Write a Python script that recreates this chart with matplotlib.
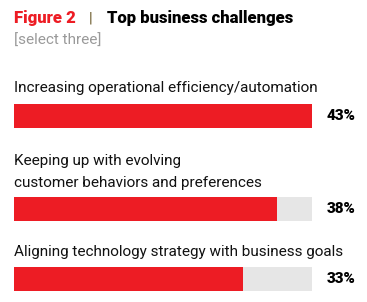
import matplotlib
matplotlib.use('Agg')
import matplotlib.pyplot as plt

# data
labels = ['Increasing operational efficiency/automation',
          'Keeping up with evolving\ncustomer behaviors and preferences',
          'Aligning technology strategy with business goals']
values = [43, 38, 33]
track_max = 43

RED = '#ED1C24'
TRACK = '#E6E6E6'
W, H = 367, 302

plt.rcParams['font.family'] = ['Roboto', 'DejaVu Sans']

fig = plt.figure(figsize=(W / 100, H / 100), dpi=100)

def px(x, y):
    # pixel (from top-left) -> figure fraction
    return x / W, 1 - y / H

# title
fig.text(*px(14, 23), 'Figure 2', color=RED, fontsize=12, fontweight='heavy', va='baseline')
fig.text(*px(89, 23), '|', color='#6B5A2A', fontsize=11, va='baseline')
fig.text(*px(107, 23), 'Top business challenges', color='black', fontsize=12,
         fontweight='heavy', va='baseline')
fig.text(*px(14, 45), '[select three]', color='#9A9A9A', fontsize=11, va='baseline')

# bars: axes spans the track
top, bottom = 104, 291
ax = fig.add_axes([14 / W, 1 - bottom / H, 298 / W, (bottom - top) / H])
ypos = [116, 209, 279]  # bar centers in px
bar_h = 24
ax.barh(ypos, [track_max] * 3, height=bar_h, color=TRACK)
ax.barh(ypos, values, height=bar_h, color=RED)
ax.set_xlim(0, track_max)
ax.set_ylim(bottom, top)
ax.axis('off')

label_base = [92, 165, 256]
for lab, yb, y, v in zip(labels, label_base, ypos, values):
    lines = lab.split('\n')
    for i, ln in enumerate(lines):
        fig.text(*px(14, yb + 22 * i), ln, fontsize=11,
                 color='#111111', va='baseline')
    fig.text(*px(341, y), f'{v}%', fontsize=11, fontweight='heavy',
             ha='center', va='center')

fig.savefig('out.png', dpi=100)
